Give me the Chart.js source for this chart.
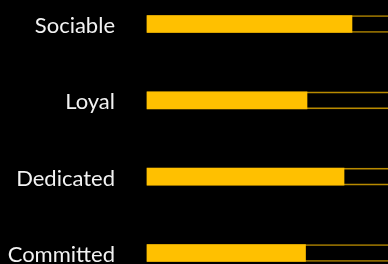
<!DOCTYPE html>
<html>
<head>
<meta charset="utf-8">
<script src="https://cdn.jsdelivr.net/npm/chart.js@4/dist/chart.umd.min.js"></script>
<style>
  html, body { margin: 0; padding: 0; background: #000; }
  #wrap { width: 388px; height: 264px; }
</style>
</head>
<body>
<div id="wrap"><canvas id="barChart" width="388" height="264"></canvas></div>
<script>
var categories = ['Sociable', 'Loyal', 'Dedicated', 'Committed'];
var scores = [82.5, 64.4, 79.3, 63.8];
var trackValues = [100, 100, 100, 100];

var ctx = document.getElementById('barChart').getContext('2d');

var chart = new Chart(ctx, {
  type: 'bar',
  data: {
    labels: categories,
    datasets: [
      {
        label: 'Score',
        data: scores,
        backgroundColor: '#FFC000',
        borderWidth: 0,
        barThickness: 17,
        grouped: false,
        clip: false
      },
      {
        label: 'Track',
        data: trackValues,
        backgroundColor: 'rgba(0,0,0,0)',
        borderColor: '#B88A00',
        borderWidth: 1,
        borderSkipped: false,
        barThickness: 17,
        grouped: false,
        clip: false
      }
    ]
  },
  options: {
    indexAxis: 'y',
    responsive: false,
    animation: false,
    layout: {
      padding: { top: 24, bottom: 11, left: 0, right: 0 }
    },
    plugins: {
      legend: { display: false },
      tooltip: { enabled: false }
    },
    scales: {
      x: {
        display: false,
        min: 0,
        max: 97
      },
      y: {
        offset: false,
        grid: { display: false, drawTicks: false },
        border: { display: false },
        ticks: {
          color: '#F2F2F2',
          padding: 32,
          labelOffset: 2,
          font: { family: 'Lato', size: 22 }
        },
        afterFit: function (scale) {
          // fixed gutter for the labels, no extra vertical padding
          scale.width = 147;
          scale.paddingTop = 0;
          scale.paddingBottom = 0;
        }
      }
    }
  }
});
</script>
</body>
</html>
